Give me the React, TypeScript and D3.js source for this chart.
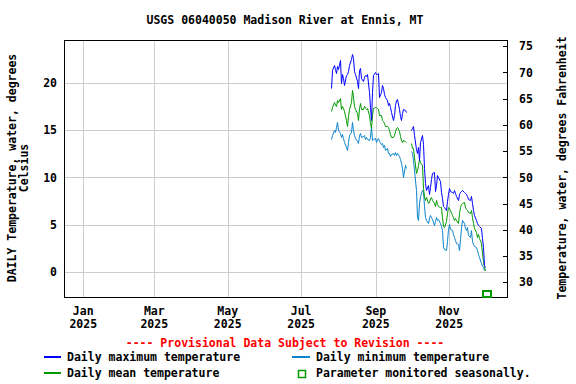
import * as d3 from "d3";

// daily values starting 2025-07-26, null = no record
const startDate = "2025-07-26";
const maxTemp = [
  19.5, 21.4, 21.9, 21.5, 21.1, 21.8, 21.5, 22.4, 20.0, 20.9,
  20.5, 19.8, 20.8, 21.0, 21.3, 21.9, 22.5, 23.1, 22.6, 21.3,
  21.0, 20.2, 19.5, 21.4, 21.6, 20.5, 20.2, 20.6, 20.8, 20.7,
  20.9, 19.0, 17.5, 16.1, 19.0, 20.8, 21.2, 20.9, 21.0, 21.1,
  18.5, 19.0, 19.8, 19.5, 18.8, 18.5, 18.2, 17.7, 17.9, 17.5,
  16.9, 16.1, 16.6, 17.7, 18.2, 18.3, 17.3, 16.5, 16.1, 16.8,
  17.3, 17.1, 16.9, null, null, null,
  15.0, 15.2, 15.4, 14.5, 13.0, 12.6, 13.2, 11.9, 13.8, 14.5,
  13.5, 11.0, 9.4, 8.7, 9.2, 8.3, 9.0, 9.8, 10.5, 10.6,
  8.6, 9.2, 10.3, 10.1, 9.6, 8.5,
  7.8, 7.0, 6.9, 6.6, 7.5, 8.2, 8.9, 8.6, 8.5, 8.4,
  8.7, 8.4, 8.0, 7.6, 8.3, 8.5, 8.6, 8.7, 8.5, 8.4,
  8.2, 8.0, 7.7, 7.6, 8.0, 7.3, 6.6, 6.0, 5.5, 5.2,
  5.0, 4.9, 4.7, 3.6, 2.6, 0.7, 0.5,
];
const meanTemp = [
  17.0, 17.5, 18.0, 17.7, 17.6, 18.2, 18.0, 18.4, 17.3, 17.6,
  17.4, 17.0, 16.1, 15.5, 16.5, 17.3, 18.0, 19.3, 18.5, 17.6,
  17.2, 16.8, 16.1, 17.4, 17.9, 17.3, 17.2, 17.6, 17.4, 17.3,
  17.4, 16.6, 15.8, 15.2, 16.6, 17.4, 17.5, 17.5, 17.4, 17.2,
  16.6, 16.6, 16.1, 16.0, 15.8, 15.5, 15.5, 15.3, 15.0, 14.6,
  14.3, 14.3, 14.5, 14.9, 15.2, 15.3, 14.9, 14.4, 14.0, 13.8,
  14.0, 13.9, 13.8, null, null, null,
  13.6, 13.1, 13.1, 12.2, 10.5, 10.8, 11.3, 12.0, 11.6, 11.3,
  8.9, 8.0, 7.6, 7.9, 7.3, 7.4, 7.8, 7.9, 7.6, 7.3,
  7.0, 7.6, 7.2, 7.0, 6.9, 6.9,
  5.8, 4.9, 4.8, 5.4, 6.2, 6.9, 6.8, 6.6, 6.0, 5.8,
  5.5, 5.7, 5.5, 5.2, 6.2, 6.9, 7.2, 7.3, 7.4, 6.9,
  6.7, 6.6, 6.3, 6.2, 6.6, 5.8, 5.2, 4.6, 4.2, 3.7,
  4.0, 3.6, 3.1, 2.0, 1.2, 0.5, 0.2,
];
const minTemp = [
  14.1, 14.5, 15.0, 14.8, 15.3, 15.9, 15.0, 14.7, 14.3, 14.6,
  14.2, 13.8, 13.2, 12.9, 13.8, 14.5, 14.8, 15.9, 15.0, 14.5,
  14.2, 13.9, 13.6, 14.5, 14.7, 14.3, 14.4, 14.5, 14.1, 14.3,
  14.1, 14.0, 14.3, 15.5, 14.0, 14.1, 14.2, 13.8, 14.1, 14.2,
  13.9, 13.5, 13.7, 13.2, 13.4, 12.9, 13.1, 12.6, 12.6, 12.3,
  12.5, 12.6, 12.4, 12.7, 12.4, 12.6, 12.3, 12.0, 11.5, 11.0,
  10.0, 11.3, 11.0, null, null, null,
  12.8, 12.6, 11.9, 10.8, 8.7, 5.8, 5.5, 7.3, 8.0, 8.7,
  8.5, 7.0, 5.8, 5.5, 5.2, 5.7, 6.0, 5.8, 5.6, 5.0,
  5.4, 5.8, 5.5, 5.6, 5.2, 4.9,
  4.4, 2.6, 2.4, 2.3, 3.3, 4.5, 5.1, 4.5, 4.4, 4.0,
  3.7, 3.4, 3.1, 3.0, 2.3, 3.5, 4.6, 5.5, 5.2, 4.6,
  4.4, 4.8, 3.9, 3.7, 4.4, 3.3, 3.0, 2.8, 2.6, 2.3,
  1.9, 1.6, 0.9, 0.6, 0.5, 0.2, 0.2,
];
const celsiusTicks = [0, 5, 10, 15, 20];
const fahrenheitTicks = [30, 35, 40, 45, 50, 55, 60, 65, 70, 75];
const monthTicks = ["2025-01-01", "2025-03-01", "2025-05-01", "2025-07-01", "2025-09-01", "2025-11-01"];
const seasonalMarker = { date: "2025-12-02", value: -2.35 };

const W = 576, H = 384;
const FONT = "'DejaVu Sans Mono', monospace";
const C_MAX = "#0000ff", C_MEAN = "#009900", C_MIN = "#0a84cc";

export default function App() {
  const x = d3.scaleUtc()
    .domain([new Date(Date.UTC(2024, 11, 16)), new Date(Date.UTC(2025, 11, 19))])
    .range([64, 507]);
  const y = d3.scaleLinear().domain([-2.65, 24.55]).range([297, 40]);
  const yF = d3.scaleLinear().domain([-2.65 * 1.8 + 32, 24.55 * 1.8 + 32]).range([297, 40]);

  const t0 = new Date(startDate + "T00:00:00Z");
  const dayOf = (i: number) => d3.utcDay.offset(t0, i);
  const line = d3.line<number | null>()
    .defined(d => d != null)
    .x((d, i) => Math.round(x(dayOf(i))) + 0.5)
    .y(d => Math.round(y(d as number)) + 0.5);

  const [x0, x1] = x.range();
  const [yb, yt] = y.range();
  const fmtM = d3.utcFormat("%b");
  const fmtY = d3.utcFormat("%Y");
  const txt = { fontFamily: FONT, fontSize: 11.5, fontWeight: "bold" as const };

  return (
    <svg width={W} height={H} style={{ position: "absolute", left: 0, top: 0, background: "#fff" }}>
      <text x={285} y={24} textAnchor="middle" {...txt}>USGS 06040050 Madison River at Ennis, MT</text>

      {/* grid */}
      {celsiusTicks.map(t => (
        <line key={"gy" + t} x1={x0} x2={x1} y1={Math.round(y(t)) + 0.5} y2={Math.round(y(t)) + 0.5} stroke="#cccccc" />
      ))}
      {monthTicks.map(m => {
        const px = Math.round(x(new Date(m + "T00:00:00Z"))) + 0.5;
        return <line key={"gx" + m} x1={px} x2={px} y1={yt} y2={yb} stroke="#cccccc" />;
      })}

      {/* series */}
      <g fill="none" strokeWidth={1}>
        <path d={line(minTemp) || ""} stroke={C_MIN} />
        <path d={line(meanTemp) || ""} stroke={C_MEAN} />
        <path d={line(maxTemp) || ""} stroke={C_MAX} />
      </g>

      {/* frame */}
      <rect x={x0 + 0.5} y={yt + 0.5} width={x1 - x0} height={yb - yt} fill="none" stroke="#000" />

      {/* right ticks */}
      {fahrenheitTicks.map(t => (
        <g key={"f" + t}>
          <line x1={x1 - 4} x2={x1} y1={Math.round(yF(t)) + 0.5} y2={Math.round(yF(t)) + 0.5} stroke="#000" />
          <text x={x1 + 12} y={yF(t)} dy="0.35em" {...txt}>{t}</text>
        </g>
      ))}
      {/* left ticks */}
      {celsiusTicks.map(t => (
        <text key={"c" + t} x={57} y={y(t)} dy="0.35em" textAnchor="end" {...txt}>{t}</text>
      ))}
      {/* bottom ticks */}
      {monthTicks.map(m => {
        const d = new Date(m + "T00:00:00Z");
        return (
          <g key={"m" + m}>
            <text x={x(d)} y={315} textAnchor="middle" {...txt}>{fmtM(d)}</text>
            <text x={x(d)} y={328} textAnchor="middle" {...txt}>{fmtY(d)}</text>
          </g>
        );
      })}

      {/* seasonal marker */}
      <rect
        x={Math.round(x(new Date(seasonalMarker.date + "T00:00:00Z"))) - 4}
        y={Math.round(y(seasonalMarker.value)) - 3}
        width={8} height={6} fill="#fff" stroke={C_MEAN} strokeWidth={2}
      />

      {/* axis titles */}
      <g transform="translate(16,168) rotate(-90)">
        <text textAnchor="middle" {...txt}>DAILY Temperature, water, degrees</text>
      </g>
      <g transform="translate(28,168) rotate(-90)">
        <text textAnchor="middle" {...txt}>Celsius</text>
      </g>
      <g transform="translate(566,168) rotate(-90)">
        <text textAnchor="middle" {...txt}>Temperature, water, degrees Fahrenheit</text>
      </g>

      {/* legend */}
      <text x={285} y={347} textAnchor="middle" {...txt} fill="#ff0000">---- Provisional Data Subject to Revision ----</text>
      <g shapeRendering="crispEdges" strokeWidth={1.5}>
        <line x1={44} x2={61} y1={357} y2={357} stroke={C_MAX} />
        <line x1={292} x2={310} y1={357} y2={357} stroke={C_MIN} />
        <line x1={44} x2={61} y1={373} y2={373} stroke={C_MEAN} />
      </g>
      <text x={67} y={361} {...txt}>Daily maximum temperature</text>
      <text x={316} y={361} {...txt}>Daily minimum temperature</text>
      <text x={67} y={377} {...txt}>Daily mean temperature</text>
      <rect x={298.5} y={370.5} width={7} height={7} fill="#fff" stroke={C_MEAN} strokeWidth={1.5} />
      <text x={316} y={377} {...txt}>Parameter monitored seasonally.</text>
    </svg>
  );
}
